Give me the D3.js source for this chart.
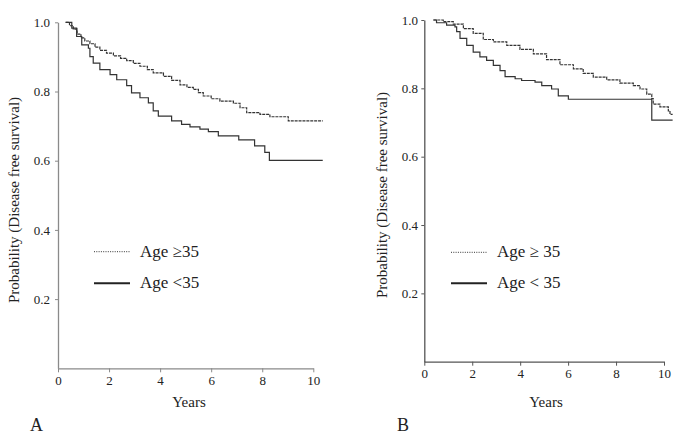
<!DOCTYPE html>
<html>
<head>
<meta charset="utf-8">
<script src="https://cdn.jsdelivr.net/npm/d3@7"></script>
<style>
  html, body { margin: 0; padding: 0; background: #fff; }
  svg { display: block; }
  text { font-family: "Liberation Serif", "Times New Roman", serif; fill: #222; }
</style>
</head>
<body>
<svg id="chart" width="685" height="435"></svg>
<script>
// ---- Data ----
const xTicks = [0, 2, 4, 6, 8, 10];
const yTicks = [0.2, 0.4, 0.6, 0.8, 1.0];
const legendLabelsA = ["Age \u226535", "Age <35"];
const legendLabelsB = ["Age \u2265 35", "Age < 35"];
const panelLabels = ["A", "B"];

// Panel A, Age >= 35 (dotted)
const timesA_ge35 = [0.3, 0.45, 0.6, 0.75, 0.9, 1.05, 1.25, 1.45, 1.64, 1.9, 2.17, 2.45, 2.69, 2.95, 3.21, 3.5, 3.73, 4.13, 4.45, 4.78, 5.05, 5.3, 5.5, 5.69, 6.0, 6.34, 6.87, 7.13, 7.39, 7.91, 8.3, 9.02, 10.37];
const survA_ge35  = [1.0, 0.99, 0.98, 0.966, 0.955, 0.946, 0.938, 0.928, 0.919, 0.911, 0.903, 0.896, 0.889, 0.881, 0.873, 0.863, 0.854, 0.844, 0.832, 0.819, 0.812, 0.806, 0.797, 0.787, 0.779, 0.772, 0.766, 0.753, 0.739, 0.734, 0.727, 0.715, 0.715];
// Panel A, Age < 35 (solid)
const timesA_lt35 = [0.3, 0.54, 0.73, 0.93, 1.19, 1.25, 1.38, 1.64, 2.04, 2.30, 2.69, 2.88, 3.21, 3.54, 3.73, 3.93, 4.45, 4.84, 5.17, 5.56, 5.89, 6.28, 7.08, 7.7, 8.1, 8.28, 10.37];
const survA_lt35  = [1.0, 0.983, 0.959, 0.935, 0.925, 0.901, 0.882, 0.863, 0.849, 0.834, 0.817, 0.796, 0.782, 0.767, 0.744, 0.729, 0.715, 0.705, 0.698, 0.691, 0.684, 0.672, 0.660, 0.643, 0.624, 0.601, 0.601];
// Panel B, Age >= 35 (dotted)
const timesB_ge35 = [0.38, 0.79, 1.21, 1.63, 2.04, 2.46, 2.88, 3.44, 3.99, 4.55, 5.10, 5.66, 6.22, 6.63, 7.05, 7.61, 8.16, 8.72, 9.0, 9.28, 9.49, 9.55, 9.83, 10.18, 10.25, 10.36];
const survB_ge35  = [1.0, 0.995, 0.988, 0.975, 0.961, 0.943, 0.936, 0.926, 0.914, 0.901, 0.884, 0.869, 0.857, 0.844, 0.833, 0.825, 0.815, 0.808, 0.798, 0.783, 0.770, 0.754, 0.746, 0.734, 0.724, 0.724];
// Panel B, Age < 35 (solid)
const timesB_lt35 = [0.38, 0.51, 0.93, 1.28, 1.35, 1.49, 1.77, 2.04, 2.32, 2.60, 2.88, 3.16, 3.37, 3.79, 4.06, 4.62, 4.9, 5.31, 5.59, 6.01, 9.49, 10.36];
const survB_lt35  = [1.0, 0.992, 0.985, 0.980, 0.966, 0.946, 0.926, 0.906, 0.892, 0.882, 0.867, 0.852, 0.834, 0.828, 0.823, 0.818, 0.808, 0.798, 0.778, 0.768, 0.707, 0.707];

const svg = d3.select("#chart");

function zip(t, p) { return t.map((d, i) => ({ t: d, p: p[i] })); }

const panels = [
  {
    x0: 58, x1: 313.3, yBottom: 368.3, yTop: 22.3, axisColor: "#8a8a8a",
    ge: zip(timesA_ge35, survA_ge35), lt: zip(timesA_lt35, survA_lt35),
    legend: legendLabelsA, legX: 94, legX2: 130, legTextX: 140, legY1: 251.7, legY2: 283.3,
    yLabelX: 14, yLabelY: 200, yearsX: 189, yearsY: 407, tickLabelY: 385, tickLabelRight: 50,
    panelLabel: panelLabels[0], panelLabelX: 30, panelLabelY: 431
  },
  {
    x0: 424.3, x1: 664, yBottom: 361.7, yTop: 20, axisColor: "#555",
    ge: zip(timesB_ge35, survB_ge35), lt: zip(timesB_lt35, survB_lt35),
    legend: legendLabelsB, legX: 451, legX2: 487, legTextX: 497, legY1: 252.3, legY2: 283.3,
    yLabelX: 382, yLabelY: 195, yearsX: 546, yearsY: 407, tickLabelY: 378, tickLabelRight: 418,
    panelLabel: panelLabels[1], panelLabelX: 397, panelLabelY: 431
  }
];

panels.forEach(P => {
  const x = d3.scaleLinear().domain([0, 10]).range([P.x0, P.x1]);
  const y = d3.scaleLinear().domain([0, 1]).range([P.yBottom, P.yTop]);
  const g = svg.append("g");

  // Y axis
  const yAxis = d3.axisLeft(y).tickValues(yTicks).tickFormat(d3.format(".1f"))
    .tickSize(3).tickSizeOuter(0).tickPadding(P.x0 - P.tickLabelRight - 3);
  const gy = g.append("g").attr("transform", `translate(${P.x0},0)`).call(yAxis);
  gy.select(".domain").attr("stroke", P.axisColor).attr("stroke-width", 1.3);
  gy.selectAll(".tick line").attr("stroke", P.axisColor);
  gy.selectAll(".tick text").attr("font-size", 13).attr("fill", "#222")
    .style("font-family", '"Liberation Serif", serif');

  // X axis
  const xAxis = d3.axisBottom(x).tickValues(xTicks).tickFormat(d3.format("d"))
    .tickSize(4).tickSizeOuter(0).tickPadding(P.tickLabelY - P.yBottom - 13);
  const gx = g.append("g").attr("transform", `translate(0,${P.yBottom})`).call(xAxis);
  gx.select(".domain").attr("stroke", P.axisColor).attr("stroke-width", 1.3);
  gx.selectAll(".tick line").attr("stroke", P.axisColor);
  gx.selectAll(".tick text").attr("font-size", 13).attr("fill", "#222")
    .style("font-family", '"Liberation Serif", serif');

  // Curves
  const line = d3.line().x(d => x(d.t)).y(d => y(d.p)).curve(d3.curveStepAfter);
  g.append("path").datum(P.ge).attr("d", line)
    .attr("fill", "none").attr("stroke", "#333").attr("stroke-width", 1.2)
    .attr("stroke-dasharray", "3,0.9");
  g.append("path").datum(P.lt).attr("d", line)
    .attr("fill", "none").attr("stroke", "#333").attr("stroke-width", 1.2);

  // Legend
  g.append("line").attr("x1", P.legX).attr("x2", P.legX2).attr("y1", P.legY1).attr("y2", P.legY1)
    .attr("stroke", "#333").attr("stroke-width", 1).attr("stroke-dasharray", "1,1.3");
  g.append("line").attr("x1", P.legX).attr("x2", P.legX2).attr("y1", P.legY2).attr("y2", P.legY2)
    .attr("stroke", "#222").attr("stroke-width", 2);
  g.append("text").attr("x", P.legTextX).attr("y", P.legY1 + 5).attr("font-size", 17).text(P.legend[0]);
  g.append("text").attr("x", P.legTextX).attr("y", P.legY2 + 5).attr("font-size", 17).text(P.legend[1]);

  // Axis titles
  g.append("text").attr("transform", `translate(${P.yLabelX},${P.yLabelY}) rotate(-90)`)
    .attr("text-anchor", "middle").attr("dy", "0.35em").attr("font-size", 15)
    .text("Probability (Disease free survival)");
  g.append("text").attr("x", P.yearsX).attr("y", P.yearsY).attr("text-anchor", "middle")
    .attr("font-size", 15).text("Years");
  g.append("text").attr("x", P.panelLabelX).attr("y", P.panelLabelY)
    .attr("font-size", 18).text(P.panelLabel);
});
</script>
</body>
</html>
